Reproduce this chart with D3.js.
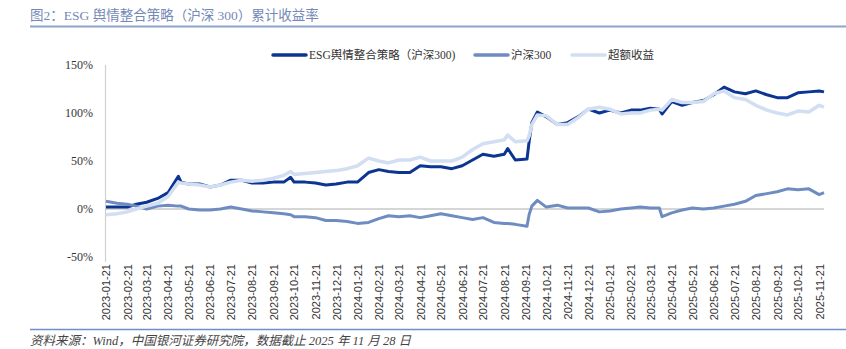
<!DOCTYPE html>
<html><head><meta charset="utf-8">
<script src="https://cdn.jsdelivr.net/npm/d3@7/dist/d3.min.js"></script>
<style>
html,body{margin:0;padding:0;background:#fff;}
svg{display:block;}
</style></head>
<body>
<svg id="chart" width="846" height="349"></svg>
<script>
const dates = ["2023-01-21","2023-02-06","2023-02-21","2023-03-06","2023-03-21","2023-04-06","2023-04-21","2023-05-06","2023-05-10","2023-05-21","2023-06-06","2023-06-21","2023-07-06","2023-07-21","2023-08-06","2023-08-21","2023-09-06","2023-09-21","2023-10-06","2023-10-16","2023-10-21","2023-11-06","2023-11-21","2023-12-06","2023-12-21","2024-01-06","2024-01-21","2024-02-06","2024-02-21","2024-03-06","2024-03-21","2024-04-06","2024-04-21","2024-05-06","2024-05-21","2024-06-06","2024-06-21","2024-07-06","2024-07-21","2024-08-06","2024-08-21","2024-08-26","2024-09-06","2024-09-23","2024-09-26","2024-09-30","2024-10-08","2024-10-21","2024-11-06","2024-11-21","2024-12-06","2024-12-21","2025-01-06","2025-01-21","2025-02-06","2025-02-21","2025-03-06","2025-03-21","2025-04-03","2025-04-07","2025-04-21","2025-05-06","2025-05-21","2025-06-06","2025-06-21","2025-07-06","2025-07-21","2025-08-06","2025-08-21","2025-09-06","2025-09-21","2025-10-06","2025-10-21","2025-11-06","2025-11-21","2025-11-28"];
const esgStrategy = [2,2,2,5,7,11,17,34,28,26,26,23,25,30,30,27,27,28,28,33,28,28,27,25,26,28,28,38,41,39,38,38,45,44,44,42,45,51,57,55,57,63,51,52,70,90,101,96,88,90,96,104,100,103,100,103,103,105,104,99,112,108,111,113,119,127,122,120,123,119,116,116,121,122,123,122];
const csi300 = [8,6,5,3,0,3,4,3,3,0,-1,-1,0,2,0,-2,-3,-4,-5,-6,-8,-8,-9,-12,-12,-13,-15,-14,-10,-7,-8,-7,-9,-7,-5,-7,-9,-11,-9,-14,-15,-15,-16,-18,-6,3,9,2,4,1,1,1,-3,-2,0,1,2,1,1,-8,-4,-1,1,0,1,3,5,8,14,16,18,21,20,21,15,17];
const excessReturn = [-6,-5,-3,0,3,6,13,28,27,26,25,23,25,28,30,29,30,32,35,39,36,37,38,39,40,42,45,53,50,48,51,51,54,50,50,50,54,62,68,70,72,77,70,71,76,88,98,97,88,88,95,104,106,104,99,100,100,103,104,103,114,111,111,112,120,123,116,114,108,103,100,98,102,101,108,106];
const seriesNames = ["ESG舆情整合策略（沪深300)","沪深300","超额收益"];
const yTicks = [-50,0,50,100,150];
const xTickLabels = ["2023-01-21","2023-02-21","2023-03-21","2023-04-21","2023-05-21","2023-06-21","2023-07-21","2023-08-21","2023-09-21","2023-10-21","2023-11-21","2023-12-21","2024-01-21","2024-02-21","2024-03-21","2024-04-21","2024-05-21","2024-06-21","2024-07-21","2024-08-21","2024-09-21","2024-10-21","2024-11-21","2024-12-21","2025-01-21","2025-02-21","2025-03-21","2025-04-21","2025-05-21","2025-06-21","2025-07-21","2025-08-21","2025-09-21","2025-10-21","2025-11-21"];
const titleText = "图2：ESG 舆情整合策略（沪深 300）累计收益率";
const sourceText = "资料来源：Wind，中国银河证券研究院，数据截止 2025 年 11 月 28 日";

const parse = d3.timeParse("%Y-%m-%d");
const svg = d3.select("#chart");
const serif = "'Liberation Serif','Times New Roman','Noto Sans CJK SC',serif";
const sans = "'Liberation Sans',Arial,'Noto Sans CJK SC',sans-serif";

const x = d3.scaleTime().domain([parse("2023-01-21"), parse("2025-11-28")]).range([106, 824]);
const y = d3.scaleLinear().domain([-50,150]).range([257,65]);

// title
svg.append("text").attr("x",30).attr("y",20).attr("font-family",serif).attr("font-size",13.5)
  .attr("fill","#7489b6").text(titleText);
svg.append("line").attr("x1",30).attr("x2",846).attr("y1",26.5).attr("y2",26.5)
  .attr("stroke","#8ea3cc").attr("stroke-width",2);

// y axis
const yAxis = d3.axisLeft(y).tickValues(yTicks).tickFormat(d=>d+"%").tickSize(0).tickPadding(13);
const gy = svg.append("g").attr("transform","translate(106,0)").call(yAxis);
gy.select(".domain").remove();
gy.selectAll("text").attr("font-family",serif).attr("font-size",12).attr("fill","#333");
svg.append("line").attr("x1",105.5).attr("x2",105.5).attr("y1",y(150)).attr("y2",y(-50)+5)
  .attr("stroke","#d0d0d0").attr("stroke-width",1.2);

// zero line
svg.append("line").attr("x1",106).attr("x2",x(parse("2025-11-28"))).attr("y1",y(0)).attr("y2",y(0))
  .attr("stroke","#d6d6d6").attr("stroke-width",2);

// x axis
const xAxis = d3.axisBottom(x).tickValues(xTickLabels.map(parse)).tickFormat(d3.timeFormat("%Y-%m-%d")).tickSize(0);
const gx = svg.append("g").attr("transform","translate(0,262)").call(xAxis);
gx.select(".domain").remove();
gx.selectAll("text").attr("font-family",sans).attr("font-size",11).attr("fill","#333")
  .attr("transform","rotate(-90)").attr("text-anchor","end").attr("x",-2).attr("y",0).attr("dy","0.35em");

// lines
const pts = arr => arr.map((v,i)=>({d:parse(dates[i]), v}));
const line = d3.line().x(p=>x(p.d)).y(p=>y(p.v)).curve(d3.curveLinear);
const series = [
  {vals: esgStrategy, color:"#0c3592", w:3},
  {vals: csi300, color:"#6f8cc2", w:3},
  {vals: excessReturn, color:"#d2def2", w:3.5}
];
series.forEach(s=>{
  svg.append("path").attr("d", line(pts(s.vals))).attr("fill","none")
    .attr("stroke",s.color).attr("stroke-width",s.w).attr("stroke-linejoin","round");
});

// legend
const legendItems = [
  {x0:273, color:"#0c3592"},
  {x0:475, color:"#6f8cc2"},
  {x0:572, color:"#d2def2"}
];
legendItems.forEach((it,i)=>{
  svg.append("line").attr("x1",it.x0).attr("x2",it.x0+33).attr("y1",55).attr("y2",55)
    .attr("stroke",it.color).attr("stroke-width",3.5).attr("stroke-linecap","round");
  svg.append("text").attr("x",it.x0+36).attr("y",59).attr("font-family",serif).attr("font-size",11.5)
    .attr("fill","#333").text(seriesNames[i]);
});

// footer
svg.append("line").attr("x1",30).attr("x2",846).attr("y1",329.5).attr("y2",329.5)
  .attr("stroke","#6f8fca").attr("stroke-width",1.5);
svg.append("text").attr("x",30).attr("y",345).attr("font-family",serif).attr("font-size",12.5)
  .attr("font-style","italic").attr("fill","#444").text(sourceText);
</script>
</body></html>
